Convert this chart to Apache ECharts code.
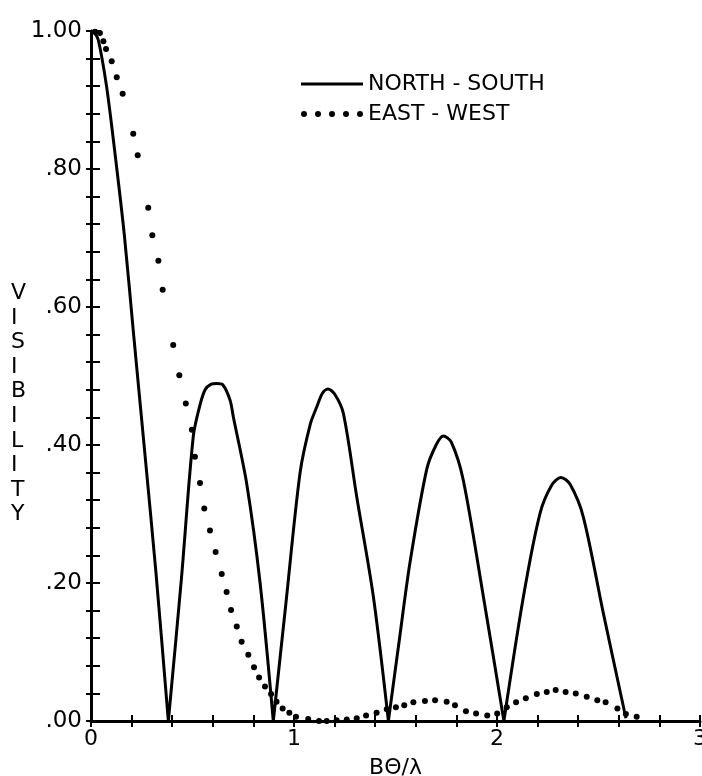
<!DOCTYPE html>
<html lang="en">

<head>
  <meta charset="UTF-8">
  <title>Visibility</title>
  <style>
    html, body { margin: 0; padding: 0; background: #fff; }
    .chart { width: 702px; height: 776px; }
  </style>
</head>

<body>
  <div class="chart"></div>
  <script src="https://cdn.jsdelivr.net/npm/echarts@6/dist/echarts.min.js"></script>
  <script>
    // north-south curve
    const nsX = [0, 0.015, 0.036, 0.077, 0.118, 0.164, 0.21, 0.263, 0.32, 0.381,
      0.445, 0.504, 0.537, 0.562, 0.59, 0.619, 0.65, 0.685, 0.701, 0.767, 0.833, 0.898,
      0.96, 1.03, 1.08, 1.112, 1.14, 1.167, 1.2, 1.243, 1.309, 1.391, 1.465,
      1.52, 1.571, 1.654, 1.7, 1.736, 1.775, 1.834, 1.933, 2.034,
      2.13, 2.212, 2.27, 2.315, 2.36, 2.425, 2.524, 2.635];
    const nsV = [1.0, 0.998, 0.987, 0.919, 0.823, 0.705, 0.56, 0.395, 0.215, 0.0,
      0.205, 0.413, 0.458, 0.48, 0.488, 0.489, 0.487, 0.465, 0.441, 0.344, 0.2, 0.0,
      0.17, 0.36, 0.43, 0.455, 0.475, 0.481, 0.474, 0.446, 0.325, 0.18, 0.0,
      0.12, 0.229, 0.365, 0.4, 0.413, 0.404, 0.349, 0.18, 0.0,
      0.18, 0.301, 0.342, 0.353, 0.343, 0.296, 0.156, 0.004];

    // east-west dots
    const ewX = [0.02, 0.044, 0.061, 0.074, 0.102, 0.127, 0.156, 0.208, 0.23, 0.282,
      0.302, 0.332, 0.353, 0.405, 0.435, 0.467, 0.497, 0.512, 0.537, 0.558,
      0.586, 0.614, 0.644, 0.668, 0.69, 0.718, 0.742, 0.775, 0.803, 0.828,
      0.857, 0.887, 0.914, 0.944, 0.977, 1.01, 1.07, 1.123, 1.161, 1.21,
      1.26, 1.309, 1.355, 1.407, 1.457, 1.502, 1.543, 1.588, 1.645, 1.695,
      1.752, 1.793, 1.847, 1.897, 1.952, 2.001, 2.048, 2.094, 2.142, 2.196,
      2.245, 2.289, 2.338, 2.388, 2.442, 2.494, 2.535, 2.593, 2.635, 2.688];
    const ewV = [0.999, 0.997, 0.985, 0.974, 0.956, 0.933, 0.909, 0.851, 0.82, 0.744,
      0.704, 0.667, 0.625, 0.545, 0.501, 0.46, 0.422, 0.383, 0.345, 0.308,
      0.276, 0.245, 0.213, 0.187, 0.161, 0.137, 0.115, 0.096, 0.078, 0.063,
      0.05, 0.039, 0.028, 0.018, 0.012, 0.006, 0.003, 0.0, 0.0, 0.001,
      0.002, 0.004, 0.008, 0.012, 0.017, 0.02, 0.023, 0.027, 0.029, 0.03,
      0.028, 0.023, 0.014, 0.011, 0.008, 0.011, 0.02, 0.027, 0.033, 0.039,
      0.042, 0.045, 0.042, 0.04, 0.035, 0.03, 0.027, 0.018, 0.01, 0.006];

    const xTicks = [0, 1, 2, 3];
    const yTicks = ['.00', '.20', '.40', '.60', '.80', '1.00'];

    const font = 'DejaVu Sans';
    const ink = '#000';

    // break the north-south line at each zero so the lobes are smoothed
    // one at a time and the V's stay sharp
    let nsData = [];
    nsX.forEach((x, i) => {
      nsData.push([x, nsV[i]]);
      if (nsV[i] === 0 && i > 0 && i < nsX.length - 1) {
        nsData.push('-');
        nsData.push([x, nsV[i]]);
      }
    });

    let chart = echarts.init(document.querySelector('.chart'));

    let tickBits = (inside, len) => ({
      axisTick: { show: true, inside: inside, length: len, lineStyle: { color: ink, width: 2 } },
      minorTick: { show: true, splitNumber: 5, length: len, lineStyle: { color: ink, width: 2 } }
    });

    let option = {
      animation: false,
      backgroundColor: '#fff',
      textStyle: { fontFamily: font, color: ink },
      grid: { left: 91, right: 2, top: 31, bottom: 55, containLabel: false, outerBoundsMode: 'none' },
      legend: {
        orient: 'vertical',
        left: 296,
        top: 68,
        itemWidth: 62,
        itemHeight: 7,
        itemGap: 8,
        textStyle: { fontFamily: font, fontSize: 22, color: ink, lineHeight: 22 },
        data: [
          { name: 'NORTH - SOUTH', icon: 'path://M0,0L0.1,0M0,7L0.1,7M0,2.1L62,2.1L62,4.9L0,4.9Z' },
          { name: 'EAST - WEST', icon: 'path://M0,3.5a3,3 0 1,0 6,0a3,3 0 1,0 -6,0M14,3.5a3,3 0 1,0 6,0a3,3 0 1,0 -6,0M28,3.5a3,3 0 1,0 6,0a3,3 0 1,0 -6,0M42,3.5a3,3 0 1,0 6,0a3,3 0 1,0 -6,0M56,3.5a3,3 0 1,0 6,0a3,3 0 1,0 -6,0' }
        ]
      },
      graphic: [{
        type: 'text',
        left: 11,
        top: 281,
        style: {
          text: 'V\nI\nS\nI\nB\nI\nL\nI\nT\nY',
          font: '22px "DejaVu Sans"',
          lineHeight: 24.6,
          fill: ink,
          align: 'center'
        }
      }],
      xAxis: [
        Object.assign({
          type: 'value', min: 0, max: 3, interval: 1,
          name: 'BΘ/λ', nameLocation: 'middle', nameGap: 36,
          nameTextStyle: { fontFamily: font, fontSize: 22, color: ink },
          axisLine: { show: true, lineStyle: { color: ink, width: 3 } },
          axisLabel: { fontFamily: font, fontSize: 22, color: ink, margin: 7,
            formatter: v => String(xTicks[Math.round(v)]) },
          splitLine: { show: false }
        }, tickBits(false, 6)),
        Object.assign({
          type: 'value', min: 0, max: 3, interval: 1, position: 'bottom',
          axisLine: { show: false }, axisLabel: { show: false }, splitLine: { show: false }
        }, tickBits(true, 6))
      ],
      yAxis: [
        Object.assign({
          type: 'value', min: 0, max: 1, interval: 0.2,
          axisLine: { show: true, lineStyle: { color: ink, width: 3 } },
          axisLabel: { fontFamily: font, fontSize: 23, color: ink, margin: 9,
            formatter: v => yTicks[Math.round(v * 5)] },
          splitLine: { show: false }
        }, tickBits(false, 5)),
        Object.assign({
          type: 'value', min: 0, max: 1, interval: 0.2, position: 'left',
          axisLine: { show: false }, axisLabel: { show: false }, splitLine: { show: false }
        }, tickBits(true, 9))
      ],
      series: [
        {
          name: 'NORTH - SOUTH',
          type: 'line',
          xAxisIndex: 0, yAxisIndex: 0,
          showSymbol: false,
          symbol: 'none',
          smooth: 0.3,
          connectNulls: false,
          lineStyle: { color: ink, width: 3 },
          itemStyle: { color: ink },
          data: nsData
        },
        {
          name: 'EAST - WEST',
          type: 'line',
          xAxisIndex: 0, yAxisIndex: 0,
          showSymbol: true,
          showAllSymbol: true,
          symbol: 'circle',
          symbolSize: 6,
          lineStyle: { width: 0, opacity: 0 },
          itemStyle: { color: ink },
          data: ewX.map((x, i) => [x, ewV[i]])
        }
      ]
    };
    chart.setOption(option);
  </script>
</body>

</html>
